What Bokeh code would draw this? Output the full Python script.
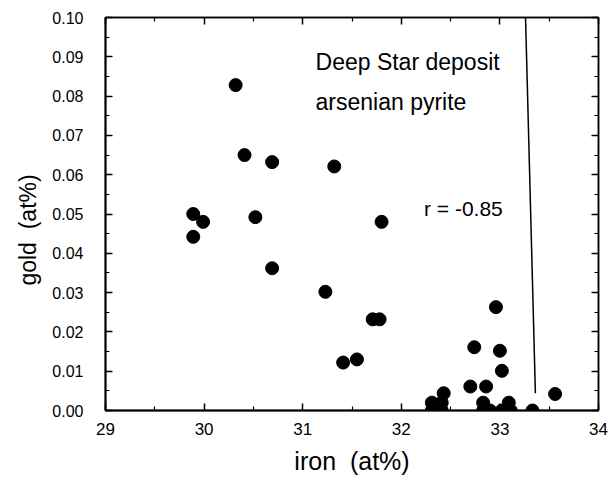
from bokeh.plotting import figure
from bokeh.models import Range1d, LinearAxis, FixedTicker, NumeralTickFormatter, CustomJSTickFormatter
from bokeh.core.properties import value
from bokeh.embed import file_html
from bokeh.resources import INLINE

# ---- data ----
iron = [30.32, 30.41, 30.69, 31.32, 29.89, 29.99, 29.89, 30.52, 30.69, 31.23,
        31.41, 31.55, 31.80, 31.71, 31.78, 32.96, 32.74, 33.00, 33.02, 32.70,
        32.86, 33.56, 33.33, 32.43, 32.31, 32.31, 32.41, 32.41, 32.83, 32.83,
        32.90, 33.02, 33.09, 33.11]
gold = [0.0828, 0.0650, 0.0632, 0.0621, 0.0500, 0.0480, 0.0442, 0.0492, 0.0362, 0.0302,
        0.0122, 0.0130, 0.0480, 0.0232, 0.0232, 0.0263, 0.0161, 0.0152, 0.0101, 0.0061,
        0.0061, 0.0042, 0.0000, 0.0044, 0.0000, 0.0020, 0.0000, 0.0020, 0.0020, 0.0000,
        0.0000, 0.0000, 0.0020, 0.0000]
fit_iron = [33.26, 33.36]
fit_gold = [0.100, 0.0044]
note_text = ["Deep Star deposit", "arsenian pyrite"]
note_x = [31.13, 31.13]
note_y = [0.0886, 0.0785]
r_text = ["r = -0.85"]
r_x = [32.23]
r_y = [0.0515]
x_ticks = [29, 30, 31, 32, 33, 34]
x_minor = [29.5, 30.5, 31.5, 32.5, 33.5]
y_ticks = [0.00, 0.01, 0.02, 0.03, 0.04, 0.05, 0.06, 0.07, 0.08, 0.09, 0.10]
y_minor = [0.005, 0.015, 0.025, 0.035, 0.045, 0.055, 0.065, 0.075, 0.085, 0.095]
x_title = "iron\u00a0\u00a0(at%)"
y_title = "gold\u00a0\u00a0(at%)"

p = figure(width=615, height=479, output_backend="svg", toolbar_location=None,
           x_range=Range1d(29, 34), y_range=Range1d(0, 0.10),
           min_border_left=105, min_border_right=17, min_border_top=17, min_border_bottom=69,
           x_axis_label=x_title,
           y_axis_label=y_title + "\u00a0" * 5)
p.grid.visible = False
p.outline_line_color = "black"
p.outline_line_width = 1.5

xt = FixedTicker(ticks=x_ticks, minor_ticks=x_minor)
yt = FixedTicker(ticks=y_ticks, minor_ticks=y_minor)

def style(ax, ticker):
    ax.ticker = ticker
    ax.axis_line_color = "black"
    ax.axis_line_width = 2
    ax.major_tick_in = 7
    ax.major_tick_out = 0
    ax.minor_tick_in = 4
    ax.minor_tick_out = 0
    ax.major_tick_line_color = "black"
    ax.minor_tick_line_color = "black"
    ax.major_tick_line_width = 1.5
    ax.minor_tick_line_width = 1.2
    ax.major_label_text_color = "black"
    ax.major_label_text_font = "Liberation Sans"
    ax.axis_label_text_color = "black"
    ax.axis_label_text_font = "Liberation Sans"
    ax.axis_label_text_font_style = "normal"

xa = p.xaxis[0]
style(xa, xt)
xa.major_label_text_font_size = "17px"
xa.major_label_standoff = 12
xa.axis_label_text_font_size = "25px"
xa.axis_label_standoff = 9

ya = p.yaxis[0]
style(ya, yt)
ya.formatter = NumeralTickFormatter(format="0.00")
ya.major_label_text_font_size = "16px"
ya.major_label_standoff = 22
ya.axis_label_text_font_size = "23px"
ya.axis_label_standoff = 8

for loc, tk in (("right", yt), ("above", xt)):
    ax = LinearAxis()
    style(ax, tk)
    ax.axis_line_width = 1.5
    ax.formatter = CustomJSTickFormatter(code="return ''")
    ax.major_label_standoff = 0
    ax.major_label_text_font_size = "1px"
    p.add_layout(ax, loc)

p.line(fit_iron, fit_gold, line_color="black", line_width=1.5)
p.scatter(iron, gold, size=13, fill_color="black", line_color="black")
p.text(note_x, note_y, text=note_text, text_font=value("Liberation Sans"),
       text_font_size="23px", text_baseline="middle", text_align="left", text_color="black")
p.text(r_x, r_y, text=r_text, text_font=value("Liberation Sans"),
       text_font_size="21px", text_baseline="middle", text_align="left", text_color="black")

open("out.html", "w").write(file_html(p, INLINE))
